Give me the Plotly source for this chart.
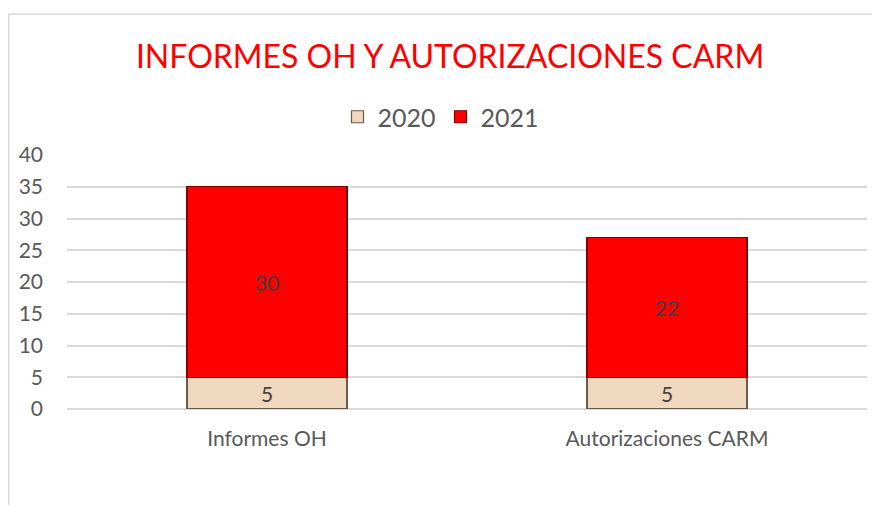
import plotly.graph_objects as go

categories = ["Informes OH", "Autorizaciones CARM"]
series_names = ["2020", "2021"]
values_2020 = [5, 5]
values_2021 = [30, 22]
y_ticks = [0, 5, 10, 15, 20, 25, 30, 35, 40]
title_text = "INFORMES OH Y AUTORIZACIONES CARM"

FONT = "Lato"
# page body has an 8px margin, so the figure is sized/offset to compensate
W, H = 872, 500
ML, MT, MR, MB = 59, 147, 13, 99
PW, PH = W - ML - MR, H - MT - MB

fig = go.Figure()
fig.add_trace(go.Bar(
    x=categories, y=values_2020, name=series_names[0],
    marker=dict(color="#F0D8BE", line=dict(color="#6E5A4A", width=1.2)),
    text=values_2020, textposition="inside", insidetextanchor="middle",
    textfont=dict(color="#404040", size=21, family=FONT), width=0.4,
))
fig.add_trace(go.Bar(
    x=categories, y=values_2021, name=series_names[1],
    marker=dict(color="#FF0000", line=dict(color="#7A0000", width=1.2)),
    text=values_2021, textposition="inside", insidetextanchor="middle",
    textfont=dict(color="#404040", size=21, family=FONT), width=0.4,
))

fig.update_layout(
    width=W, height=H,
    margin=dict(l=ML, r=MR, t=MT, b=MB),
    barmode="stack",
    paper_bgcolor="white", plot_bgcolor="white",
    font=dict(family=FONT, color="#595959", size=18),
    title=dict(text=title_text, x=(442 - ML) / PW, xanchor="center", xref="paper",
               y=1 - 49 / H, yref="container", yanchor="middle",
               font=dict(color="#FF0000", size=32, family=FONT)),
    legend=dict(orientation="h", x=(433 - ML) / PW, xanchor="center",
                y=1 + (MT - 109) / PH, yanchor="middle",
                font=dict(size=25, color="#595959"), traceorder="normal"),
    showlegend=True,
    uniformtext=dict(mode=False),
)
fig.update_yaxes(range=[0, 40], tickvals=y_ticks, showgrid=True, gridcolor="#D9D9D9",
                 gridwidth=1.5, zeroline=True, zerolinecolor="#D9D9D9", zerolinewidth=1.5,
                 showline=False, ticks="", ticklabelstandoff=23,
                 tickfont=dict(size=21, color="#595959"))
fig.update_xaxes(showline=False, ticks="", ticklabelstandoff=15,
                 tickfont=dict(size=21, color="#595959"))

# chart frame (light border)
top_y = 1 + (MT - 6) / PH
bottom_y = (H - MB - 497) / PH
left_x = (0.8 - ML) / PW
fig.add_shape(type="line", xref="paper", yref="paper", x0=left_x, x1=left_x,
              y0=bottom_y, y1=top_y, line=dict(color="#D9D9D9", width=1.5))
fig.add_shape(type="line", xref="paper", yref="paper", x0=left_x, x1=1.03,
              y0=top_y, y1=top_y, line=dict(color="#D9D9D9", width=1.5))

fig.write_html("out.html")
